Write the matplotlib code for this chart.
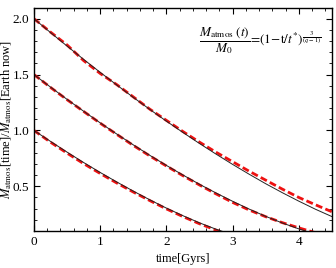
import matplotlib
matplotlib.use("Agg")
import matplotlib.pyplot as plt
from matplotlib.ticker import MultipleLocator

plt.rcParams['font.family'] = ['Liberation Serif', 'DejaVu Serif']
plt.rcParams['mathtext.fontset'] = 'stix'

# time grid (Gyr)
t = [0.0, 0.25, 0.5, 0.75, 1.0, 1.25, 1.5, 1.75, 2.0, 2.25, 2.5, 2.75,
     3.0, 3.25, 3.5, 3.75, 4.0, 4.25, 4.5]

# model curves (thin black)
model_hi = [2.0, 1.876, 1.755, 1.636, 1.520, 1.407, 1.296, 1.188, 1.083, 0.982,
            0.883, 0.788, 0.696, 0.608, 0.523, 0.443, 0.367, 0.295, 0.229]
model_mid = [1.5, 1.388, 1.278, 1.172, 1.068, 0.968, 0.871, 0.777, 0.687, 0.601,
             0.518, 0.440, 0.366, 0.296, 0.231, 0.172, 0.119, 0.072]
model_lo = [1.0, 0.902, 0.806, 0.713, 0.624, 0.539, 0.457, 0.379, 0.305, 0.237,
            0.173, 0.116, 0.066]

# simulation curves (red dashed)
sim_hi = [2.0, 1.88, 1.765, 1.625, 1.51, 1.41, 1.30, 1.19, 1.09, 0.99,
          0.895, 0.805, 0.72, 0.635, 0.555, 0.475, 0.40, 0.335, 0.272]
sim_mid = [1.5, 1.385, 1.275, 1.17, 1.065, 0.965, 0.866, 0.772, 0.682, 0.595,
           0.512, 0.432, 0.356, 0.288, 0.228, 0.175, 0.128, 0.085]
sim_lo = [1.0, 0.895, 0.797, 0.703, 0.615, 0.530, 0.449, 0.372, 0.298, 0.229,
          0.165, 0.108, 0.058]

fig = plt.figure(figsize=(3.36, 2.68), dpi=100)
ax = fig.add_axes([0.101, 0.138, 0.887, 0.834])

for s in (sim_hi, sim_mid, sim_lo):
    ax.plot(t[:len(s)], s, color='#ee1111', lw=2.0, ls=(0, (2.5, 1.2)))
for m in (model_hi, model_mid, model_lo):
    ax.plot(t[:len(m)], m, color='#222222', lw=0.7)

ax.set_xlim(0, 4.5)
ax.set_ylim(0.1, 2.1)
ax.xaxis.set_major_locator(MultipleLocator(1))
ax.xaxis.set_minor_locator(MultipleLocator(0.2))
ax.yaxis.set_major_locator(MultipleLocator(0.5))
ax.yaxis.set_minor_locator(MultipleLocator(0.1))
ax.tick_params(which='both', direction='in', top=True, right=True, labelsize=9.5)
ax.tick_params(which='major', length=4, width=0.8)
ax.tick_params(which='minor', length=2, width=0.6)
for sp in ax.spines.values():
    sp.set_linewidth(1.0)

ax.set_xlabel("time[Gyrs]", fontsize=9, labelpad=4)
ax.set_ylabel(r"$M_{\rm atmos}$[time]/$M_{\rm atmos}$[Earth now]", fontsize=9)
ax.yaxis.set_label_coords(-0.068, 0.5)

ax.text(0.555, 0.85,
        r"$\dfrac{M_{\rm atmos}\;(t)}{M_0}\!=\!(1\!-\!{\rm t}/t^{*})^{\frac{3}{(q-1)}}$",
        transform=ax.transAxes, fontsize=9.5, ha='left', va='center')

fig.savefig("out.png", dpi=100)
